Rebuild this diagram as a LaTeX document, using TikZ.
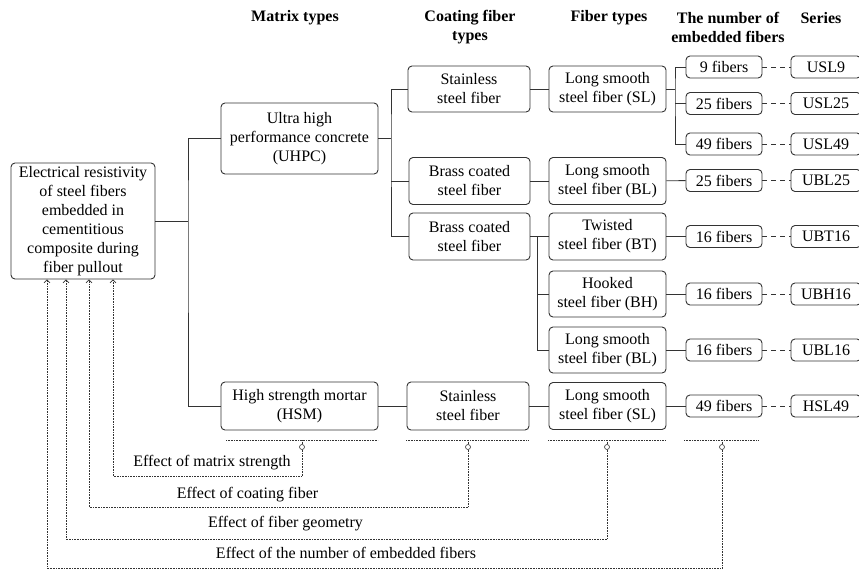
\documentclass[tikz,border=0pt]{standalone}
\usepackage{fontspec}
\setmainfont{Liberation Serif}
\usetikzlibrary{arrows.meta}

\begin{document}
\begin{tikzpicture}[x=1pt,y=-1pt,
  font=\fontsize{16}{19}\selectfont,
  >={Straight Barb[length=3pt,width=6pt]},
  every node/.style={inner sep=0pt},
  box/.style={draw=black!80, line width=0.9pt, rounded corners=4pt, align=center},
  head/.style={font=\fontsize{16}{19}\selectfont\bfseries, align=center},
  link/.style={draw=black!80, line width=0.9pt},
  effect/.style={draw=black!80, densely dotted, line width=0.6pt}]
  \useasboundingbox (0,0) rectangle (859,571);
  % column headings
  \node[head] (hmatrix) at (295,18) {Matrix types};
  \node[head] (hcoat) at (470,27) {Coating fiber\\types};
  \node[head] (hfiber) at (609,18) {Fiber types};
  \node[head] (hnum) at (728,27) {The number of\\embedded fibers};
  \node[head] (hseries) at (821,18) {Series};
  % boxes
  \node[box, minimum width=144, minimum height=116] (root) at (83,221) {Electrical resistivity\\of steel fibers\\embedded in\\cementitious\\composite during\\fiber pullout};
  \node[box, minimum width=157, minimum height=71] (uhpc) at (299.5,138.5) {Ultra high\\performance concrete\\(UHPC)};
  \node[box, minimum width=157, minimum height=48] (hsm) at (299.5,406) {High strength mortar\\(HSM)};
  \node[box, minimum width=122, minimum height=46] (stain1) at (469,89) {Stainless\\steel fiber};
  \node[box, minimum width=121, minimum height=47] (brass1) at (469.5,181) {Brass coated\\steel fiber};
  \node[box, minimum width=121, minimum height=47] (brass2) at (469.5,236.5) {Brass coated\\steel fiber};
  \node[box, minimum width=122, minimum height=48] (stain2) at (468,406) {Stainless\\steel fiber};
  \node[box, minimum width=117, minimum height=46] (sl1) at (607.5,89) {Long smooth\\steel fiber (SL)};
  \node[box, minimum width=117, minimum height=47] (bl1) at (607.5,181) {Long smooth\\steel fiber (BL)};
  \node[box, minimum width=117, minimum height=47] (bt) at (607.5,236.5) {Twisted\\steel fiber (BT)};
  \node[box, minimum width=117, minimum height=46] (bh) at (607.5,294) {Hooked\\steel fiber (BH)};
  \node[box, minimum width=117, minimum height=46] (bl2) at (607.5,350) {Long smooth\\steel fiber (BL)};
  \node[box, minimum width=117, minimum height=47] (sl2) at (607.5,406) {Long smooth\\steel fiber (SL)};
  \foreach \n/\y/\cnt/\ser in {a/67/9/USL9, b/103.5/25/USL25, c/144/49/USL49, d/180.5/25/UBL25, e/236.5/16/UBT16, f/294/16/UBH16, g/350/16/UBL16, h/406/49/HSL49} {
    \node[box, minimum width=76, minimum height=22] (num\n) at (724,\y) {\cnt\ fibers};
    \node[box, minimum width=70, minimum height=22] (ser\n) at (826,\y) {\ser};
    \draw[link, dash pattern=on 5pt off 4pt] (num\n) -- (ser\n);
  }
  % tree connectors
  \coordinate (tm) at (188,221);
  \coordinate (tu) at (391,138.5);
  \coordinate (ts) at (675,89);
  \coordinate (tb) at (537,236.5);
  \draw[link] (root.east) -- (tm);
  \draw[link] (uhpc.west) -| (tm) |- (hsm.west);
  \draw[link] (uhpc.east) -- (tu);
  \draw[link] (stain1.west) -| (tu) |- (brass2.west);
  \draw[link] (tu |- brass1.west) -- (brass1.west);
  \draw[link] (stain1) -- (sl1);
  \draw[link] (brass1) -- (bl1);
  \draw[link] (sl1.east) -- (ts);
  \draw[link] (numa.west) -| (ts) |- (numc.west);
  \draw[link] (ts |- numb.west) -- (numb.west);
  \draw[link] (bl1) -- (numd);
  \draw[link] (brass2) -- (bt);
  \draw[link] (tb) |- (bl2.west);
  \draw[link] (tb |- bh.west) -- (bh.west);
  \draw[link] (bt) -- (nume);
  \draw[link] (bh) -- (numf);
  \draw[link] (bl2) -- (numg);
  \draw[link] (hsm) -- (stain2);
  \draw[link] (stain2) -- (sl2);
  \draw[link] (sl2) -- (numh);
  % effects
  \foreach \c/\a/\b/\m in {cmat/226/378/302, ccoat/406/529/468, cgeo/548/665/607, cnum/684/759/722} {
    \draw[effect] (\a,440) -- (\b,440);
    \node[draw=black!80, circle, line width=0.6pt, minimum size=5] (\c) at (\m,447) {};
    \draw[effect] (\m,440) -- (\c.north);
  }
  \draw[effect, ->] (cmat.south) -- ++(0,26.5) -| ([xshift=30pt]root.south);
  \draw[effect, ->] (ccoat.south) -- ++(0,57.5) -| ([xshift=6pt]root.south);
  \draw[effect, ->] (cgeo.south) -- ++(0,89.5) -| ([xshift=-17pt]root.south);
  \draw[effect, ->] (cnum.south) -- ++(0,118.5) -| ([xshift=-36pt]root.south);
  \node (lmat) at (212,463) {Effect of matrix strength};
  \node (lcoat) at (247.5,495) {Effect of coating fiber};
  \node (lgeo) at (285.5,524) {Effect of fiber geometry};
  \node (lnum) at (346,553) {Effect of the number of embedded fibers};
\end{tikzpicture}
\end{document}
